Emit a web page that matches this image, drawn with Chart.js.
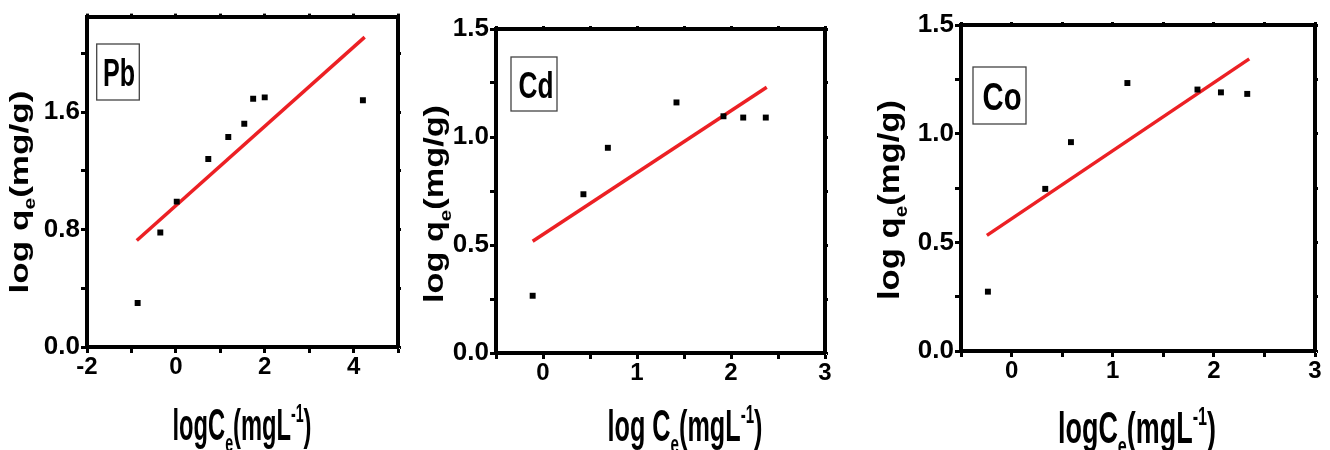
<!DOCTYPE html>
<html>
<head>
<meta charset="utf-8">
<script src="https://cdn.jsdelivr.net/npm/chart.js@4/dist/chart.umd.min.js"></script>
<style>
  body { margin: 0; background: #fff; width: 1330px; height: 450px; position: relative; overflow: hidden; }
  canvas { position: absolute; top: 0; }
</style>
</head>
<body>
<canvas id="pbChart" width="420" height="450" style="left:0px"></canvas>
<canvas id="cdChart" width="440" height="450" style="left:420px"></canvas>
<canvas id="coChart" width="470" height="450" style="left:860px"></canvas>
<script>
// Pb: log Ce vs log qe, plus the fitted line (end points)
const pbLogCe = [-0.86, -0.35, 0.02, 0.73, 1.18, 1.54, 1.74, 2.0, 4.21];
const pbLogQe = [0.30, 0.78, 0.99, 1.28, 1.43, 1.52, 1.69, 1.70, 1.68];
const pbFitX = [-0.88, 4.25];
const pbFitY = [0.725, 2.11];

// Cd
const cdLogCe = [-0.11, 0.43, 0.69, 1.42, 1.92, 2.13, 2.37];
const cdLogQe = [0.265, 0.735, 0.95, 1.16, 1.096, 1.09, 1.09];
const cdFitX = [-0.11, 2.38];
const cdFitY = [0.517, 1.23];

// Co
const coLogCe = [-0.234, 0.333, 0.587, 1.145, 1.838, 2.07, 2.33];
const coLogQe = [0.273, 0.746, 0.961, 1.233, 1.203, 1.19, 1.183];
const coFitX = [-0.244, 2.35];
const coFitY = [0.532, 1.344];

// axis ranges and tick steps [minor, major]
const pbXRange = [-2, 5], pbXSteps = [1, 2];
const pbYRange = [0, 2.25], pbYSteps = [0.4, 0.8];
const cdXRange = [-0.5, 3], cdXSteps = [0.5, 1];
const cdYRange = [0, 1.5], cdYSteps = [0.25, 0.5];
const coXRange = [-0.5, 3], coXSteps = [0.5, 1];
const coYRange = [0, 1.5], coYSteps = [0.25, 0.5];

const tickFont = "'Liberation Sans Narrow', 'Liberation Sans', Arial, sans-serif";
const titleFont = "'Liberation Sans', Arial, sans-serif";

const yTitle = [{ t: 'log q' }, { t: 'e', sub: true }, { t: '(mg/g)' }];
const xTitleA = [{ t: 'logC' }, { t: 'e', sub: true }, { t: '(mgL' }, { t: '-1', sup: true }, { t: ')' }];
const xTitleB = [{ t: 'log C' }, { t: 'e', sub: true }, { t: '(mgL' }, { t: '-1', sup: true }, { t: ')' }];

function isMajor(v, step) {
  const r = v / step;
  return Math.abs(r - Math.round(r)) < 1e-6;
}

// draw text made of normal / sub / superscript pieces, squeezed to a given length
function drawRich(ctx, parts, o) {
  ctx.save();
  ctx.translate(o.x, o.y);
  if (o.rotate) ctx.rotate(-Math.PI / 2);
  let w = 0;
  parts.forEach(p => {
    ctx.font = 'bold ' + (p.sub || p.sup ? o.size * 0.6 : o.size) + 'px ' + titleFont;
    p.w = ctx.measureText(p.t).width;
    w += p.w;
  });
  ctx.scale(o.len / w, o.across || 1);
  ctx.fillStyle = '#000';
  ctx.textBaseline = 'alphabetic';
  let cx = -w / 2;
  parts.forEach(p => {
    ctx.font = 'bold ' + (p.sub || p.sup ? o.size * 0.6 : o.size) + 'px ' + titleFont;
    const dy = p.sub ? o.size * 0.28 : p.sup ? -o.size * 0.42 : 0;
    ctx.fillText(p.t, cx, dy);
    cx += p.w;
  });
  ctx.restore();
}

function makeChart(id, p) {
  const canvas = document.getElementById(id);
  const W = canvas.width, H = canvas.height;

  const axisBase = (range, steps, pos) => ({
    type: 'linear',
    position: pos,
    min: range[0],
    max: range[1],
    border: { display: true, color: '#000', width: 4 },
    grid: {
      display: true, drawOnChartArea: false, drawTicks: true,
      tickLength: (pos === 'top' || pos === 'right') ? 3 : 6,
      tickWidth: 3, tickColor: '#000'
    },
    ticks: {
      stepSize: steps[0],
      includeBounds: false,
      autoSkip: false,
      maxRotation: 0,
      display: pos === 'bottom' || pos === 'left',
      color: '#000'
    }
  });

  const x = axisBase(p.xRange, p.xSteps, 'bottom');
  x.ticks.font = { family: tickFont, size: 24, weight: 'bold' };
  x.ticks.padding = 0;
  x.ticks.callback = v => isMajor(v, p.xSteps[1]) ? String(Math.round(v)) : '';
  x.afterFit = s => { s.height = H - p.area.bottom; };

  const y = axisBase(p.yRange, p.ySteps, 'left');
  y.ticks.font = { family: tickFont, size: 26, weight: 'bold' };
  y.ticks.padding = 1;
  y.ticks.callback = v => isMajor(v, p.ySteps[1]) ? v.toFixed(1) : '';
  y.afterFit = s => { s.width = p.area.left; };

  const x2 = axisBase(p.xRange, p.xSteps, 'top');
  x2.afterFit = s => { s.height = 0; };
  const y2 = axisBase(p.yRange, p.ySteps, 'right');
  y2.afterFit = s => { s.width = 0; };

  const decorate = {
    id: 'decorate',
    afterDraw(chart) {
      const ctx = chart.ctx;
      // element label box
      const b = p.box;
      ctx.save();
      ctx.fillStyle = '#fff';
      ctx.fillRect(b.x, b.y, b.w, b.h);
      ctx.strokeStyle = '#444';
      ctx.lineWidth = 1.3;
      ctx.strokeRect(b.x, b.y, b.w, b.h);
      ctx.restore();
      drawRich(ctx, [{ t: p.name }], { x: b.tx, y: b.ty, size: b.size, len: b.len });
      // axis titles
      drawRich(ctx, yTitle, p.yTitle);
      drawRich(ctx, p.xParts, p.xTitle);
    }
  };

  return new Chart(canvas, {
    type: 'scatter',
    data: {
      datasets: [
        {
          label: p.name,
          data: p.xs.map((v, i) => ({ x: v, y: p.ys[i] })),
          pointStyle: 'rect',
          pointRadius: 4.2,
          pointHoverRadius: 4.2,
          backgroundColor: '#000',
          borderColor: '#000',
          borderWidth: 0
        },
        {
          label: 'fit',
          data: p.fitX.map((v, i) => ({ x: v, y: p.fitY[i] })),
          showLine: true,
          borderColor: 'rgb(236, 32, 36)',
          borderWidth: 3.5,
          pointRadius: 0,
          fill: false
        }
      ]
    },
    options: {
      responsive: false,
      animation: false,
      events: [],
      layout: { padding: { top: p.area.top, right: W - p.area.right, left: 0, bottom: 0 } },
      plugins: { legend: { display: false }, tooltip: { enabled: false } },
      scales: { x, y, x2, y2 }
    },
    plugins: [decorate]
  });
}

makeChart('pbChart', {
  name: 'Pb', xs: pbLogCe, ys: pbLogQe, fitX: pbFitX, fitY: pbFitY,
  xRange: pbXRange, xSteps: pbXSteps, yRange: pbYRange, ySteps: pbYSteps,
  area: { left: 87, right: 398, top: 12, bottom: 347 },
  box: { x: 96.7, y: 44, w: 42.6, h: 56, tx: 119, ty: 86, size: 39, len: 32 },
  yTitle: { x: 28, y: 192, size: 35, len: 203, across: 0.75, rotate: true },
  xParts: xTitleA,
  xTitle: { x: 242, y: 440, size: 44, len: 139 }
});

makeChart('cdChart', {
  name: 'Cd', xs: cdLogCe, ys: cdLogQe, fitX: cdFitX, fitY: cdFitY,
  xRange: cdXRange, xSteps: cdXSteps, yRange: cdYRange, ySteps: cdYSteps,
  area: { left: 76, right: 405, top: 29, bottom: 353 },
  box: { x: 91, y: 57, w: 46, h: 54, tx: 116, ty: 97.5, size: 36, len: 35 },
  yTitle: { x: 23, y: 204, size: 35, len: 198, across: 0.8, rotate: true },
  xParts: xTitleB,
  xTitle: { x: 265, y: 441, size: 44, len: 155 }
});

makeChart('coChart', {
  name: 'Co', xs: coLogCe, ys: coLogQe, fitX: coFitX, fitY: coFitY,
  xRange: coXRange, xSteps: coXSteps, yRange: coYRange, ySteps: coYSteps,
  area: { left: 101, right: 455, top: 25, bottom: 351 },
  box: { x: 113, y: 67, w: 53, h: 57, tx: 142, ty: 110, size: 39, len: 39 },
  yTitle: { x: 39, y: 200, size: 35, len: 200, across: 0.85, rotate: true },
  xParts: xTitleA,
  xTitle: { x: 277, y: 443, size: 44, len: 158 }
});
</script>
</body>
</html>
